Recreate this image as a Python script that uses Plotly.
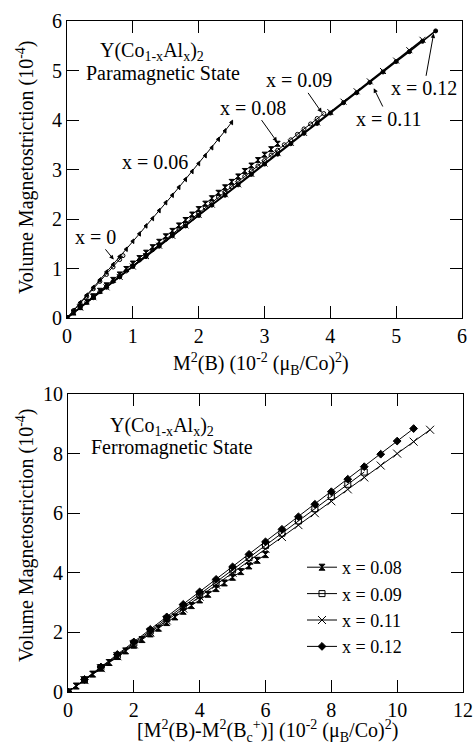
import plotly.graph_objects as go

# ---------- top panel (paramagnetic) ----------
p0_x = [0, 0.1, 0.2, 0.3, 0.4, 0.5, 0.6, 0.7, 0.8, 0.85]
p0_y = [0, 0.15, 0.29, 0.44, 0.59, 0.74, 0.88, 1.03, 1.18, 1.26]

p06_x = [0, 0.1, 0.2, 0.3, 0.4, 0.5, 0.6, 0.7, 0.8, 0.9, 1.0, 1.1, 1.2, 1.3, 1.4, 1.5,
         1.6, 1.7, 1.8, 1.9, 2.0, 2.1, 2.2, 2.3, 2.4, 2.5]
p06_y = [0, 0.15, 0.31, 0.46, 0.62, 0.77, 0.93, 1.08, 1.24, 1.39, 1.55, 1.70, 1.86, 2.01,
         2.17, 2.33, 2.48, 2.64, 2.80, 2.96, 3.12, 3.28, 3.44, 3.61, 3.78, 3.95]

p08_x = [0, 0.1, 0.2, 0.3, 0.4, 0.5, 0.6, 0.7, 0.8, 0.9, 1.0, 1.1, 1.2, 1.3, 1.4, 1.5, 1.6,
         1.7, 1.8, 1.9, 2.0, 2.1, 2.2, 2.3, 2.4, 2.5, 2.6, 2.7, 2.8, 2.9, 3.0, 3.1, 3.2]
p08_y = [0, 0.11, 0.22, 0.33, 0.44, 0.55, 0.66, 0.77, 0.88, 0.99, 1.10, 1.21, 1.32, 1.43,
         1.54, 1.65, 1.76, 1.87, 1.98, 2.09, 2.20, 2.31, 2.42, 2.53, 2.64, 2.75, 2.86, 2.97,
         3.08, 3.19, 3.30, 3.41, 3.52]

p09_x = [0, 0.1, 0.2, 0.3, 0.4, 0.5, 0.6, 0.7, 0.8, 0.9, 1.0, 1.1, 1.2, 1.3, 1.4, 1.5, 1.6,
         1.7, 1.8, 1.9, 2.0, 2.1, 2.2, 2.3, 2.4, 2.5, 2.6, 2.7, 2.8, 2.9, 3.0, 3.1, 3.2, 3.3,
         3.4, 3.5, 3.6, 3.7, 3.8, 3.9]
p09_y = [0, 0.11, 0.21, 0.32, 0.42, 0.53, 0.64, 0.74, 0.85, 0.95, 1.06, 1.17, 1.27, 1.38,
         1.48, 1.59, 1.70, 1.80, 1.91, 2.01, 2.12, 2.23, 2.33, 2.44, 2.54, 2.65, 2.76, 2.86,
         2.97, 3.07, 3.18, 3.29, 3.39, 3.50, 3.60, 3.71, 3.82, 3.92, 4.03, 4.13]

p11_x = [0, 0.2, 0.4, 0.6, 0.8, 1.0, 1.2, 1.4, 1.6, 1.8, 2.0, 2.2, 2.4, 2.6, 2.8, 3.0, 3.2,
         3.4, 3.6, 3.8, 4.0, 4.2, 4.4, 4.6, 4.8, 5.0, 5.2, 5.4]
p11_y = [0, 0.21, 0.42, 0.62, 0.83, 1.04, 1.25, 1.46, 1.66, 1.87, 2.08, 2.29, 2.50, 2.70,
         2.91, 3.12, 3.33, 3.54, 3.74, 3.95, 4.16, 4.37, 4.58, 4.78, 4.99, 5.20, 5.41, 5.62]

p12_x = [0, 0.2, 0.4, 0.6, 0.8, 1.0, 1.2, 1.4, 1.6, 1.8, 2.0, 2.2, 2.4, 2.6, 2.8, 3.0, 3.2,
         3.4, 3.6, 3.8, 4.0, 4.2, 4.4, 4.6, 4.8, 5.0, 5.2, 5.4, 5.6]
p12_y = [0, 0.21, 0.41, 0.62, 0.83, 1.04, 1.24, 1.45, 1.66, 1.86, 2.07, 2.28, 2.48, 2.69,
         2.90, 3.11, 3.31, 3.52, 3.73, 3.93, 4.14, 4.35, 4.55, 4.76, 4.97, 5.18, 5.38, 5.59, 5.80]

# ---------- bottom panel (ferromagnetic) ----------
f08_x = [0, 0.25, 0.5, 0.75, 1.0, 1.25, 1.5, 1.75, 2.0, 2.25, 2.5, 2.75, 3.0, 3.25, 3.5,
         3.75, 4.0, 4.25, 4.5, 4.75, 5.0, 5.25, 5.5, 5.75, 6.0]
f08_y = [0, 0.20, 0.40, 0.60, 0.80, 0.99, 1.19, 1.38, 1.57, 1.76, 1.95, 2.14, 2.33, 2.52,
         2.71, 2.90, 3.09, 3.28, 3.47, 3.66, 3.85, 4.04, 4.23, 4.42, 4.61]

f09_x = [0, 0.5, 1.0, 1.5, 2.0, 2.5, 3.0, 3.5, 4.0, 4.5, 5.0, 5.5, 6.0, 6.5, 7.0, 7.5, 8.0,
         8.5, 9.0]
f09_y = [0, 0.41, 0.82, 1.23, 1.64, 2.05, 2.46, 2.87, 3.28, 3.69, 4.10, 4.51, 4.92, 5.33,
         5.74, 6.15, 6.56, 6.97, 7.38]

f11_x = [0, 0.5, 1.0, 1.5, 2.0, 2.5, 3.0, 3.5, 4.0, 4.5, 5.0, 5.5, 6.0, 6.5, 7.0, 7.5, 8.0,
         8.5, 9.0, 9.5, 10.0, 10.5, 11.0]
f11_y = [0, 0.40, 0.80, 1.20, 1.60, 2.00, 2.40, 2.80, 3.20, 3.60, 4.00, 4.40, 4.80, 5.20,
         5.60, 6.00, 6.40, 6.80, 7.20, 7.60, 8.00, 8.40, 8.80]

f12_x = [0, 0.5, 1.0, 1.5, 2.0, 2.5, 3.0, 3.5, 4.0, 4.5, 5.0, 5.5, 6.0, 6.5, 7.0, 7.5, 8.0,
         8.5, 9.0, 9.5, 10.0, 10.5]
f12_y = [0, 0.42, 0.84, 1.26, 1.68, 2.10, 2.52, 2.94, 3.36, 3.78, 4.20, 4.62, 5.04, 5.46,
         5.88, 6.30, 6.72, 7.14, 7.56, 7.98, 8.42, 8.84]

legend_labels = ["x = 0.08", "x = 0.09", "x = 0.11", "x = 0.12"]

FONT = "'Liberation Serif', 'Times New Roman', 'DejaVu Serif', serif"
BLACK = "black"
FS = 20

fig = go.Figure()

def add(xs, ys, symbol, size, xa, ya, name=None, show=False, lw=1):
    fig.add_trace(go.Scatter(
        x=xs, y=ys, mode="lines+markers", xaxis=xa, yaxis=ya,
        name=name, showlegend=show,
        line=dict(color=BLACK, width=lw),
        marker=dict(symbol=symbol, size=size, color=BLACK,
                    line=dict(color=BLACK, width=1)),
    ))

# top
add(p0_x, p0_y, "circle-open", 4, "x", "y")
add(p06_x, p06_y, "triangle-left", 4, "x", "y")
add(p08_x, p08_y, "hourglass", 5, "x", "y")
add(p09_x, p09_y, "circle-open", 4, "x", "y")
add(p11_x, p11_y, "x-thin-open", 6, "x", "y", lw=1.5)
add(p12_x, p12_y, "circle", 4, "x", "y", lw=1.5)

# bottom
add(f08_x, f08_y, "hourglass", 6, "x2", "y2", legend_labels[0], True)
add(f09_x, f09_y, "square-open", 6, "x2", "y2", legend_labels[1], True)
add(f11_x, f11_y, "x-thin-open", 8, "x2", "y2", legend_labels[2], True)
add(f12_x, f12_y, "diamond", 6, "x2", "y2", legend_labels[3], True)

axis_common = dict(
    showline=True, linecolor=BLACK, linewidth=1, mirror="ticks",
    ticks="inside", ticklen=12, tickwidth=1, tickcolor=BLACK,
    showgrid=False, zeroline=False, automargin=False,
    tickfont=dict(family=FONT, size=FS, color=BLACK),
)

fig.update_layout(
    width=475, height=747,
    margin=dict(l=0, r=0, t=0, b=0, pad=0, autoexpand=False),
    paper_bgcolor="white", plot_bgcolor="white",
    font=dict(family=FONT, color=BLACK),
    xaxis=dict(domain=[67/475, 462/475], range=[0, 6], dtick=1, anchor="y", **axis_common),
    yaxis=dict(domain=[1-318/747, 1-21/747], range=[0, 6], dtick=1, anchor="x", **axis_common),
    xaxis2=dict(domain=[68/475, 463/475], range=[0, 12], dtick=2, anchor="y2", **axis_common),
    yaxis2=dict(domain=[1-692/747, 1-394/747], range=[0, 10], dtick=2, anchor="x2", **axis_common),
    legend=dict(x=302/475, y=1-549/747, xanchor="left", yanchor="top",
                bgcolor="rgba(0,0,0,0)", font=dict(family=FONT, size=18, color=BLACK),
                itemwidth=30, tracegroupgap=0),
)

ann = []
def txt(text, x, y, xr="x", yr="y", size=FS, angle=0):
    ann.append(dict(text=text, x=x, y=y, xref=xr, yref=yr, showarrow=False,
                    xanchor="center", yanchor="middle",
                    font=dict(family=FONT, size=size, color=BLACK), textangle=angle))

def arr(text, tx, ty, hx, hy):
    ann.append(dict(text=text, x=hx, y=hy, ax=tx, ay=ty, xref="x", yref="y",
                    axref="x", ayref="y", showarrow=True, arrowhead=2, arrowsize=0.9,
                    arrowwidth=1, arrowcolor=BLACK, standoff=0,
                    font=dict(family=FONT, size=FS, color=BLACK)))

txt("Y(Co<sub>1-x</sub>Al<sub>x</sub>)<sub>2</sub>", 1.29, 5.38)
txt("Paramagnetic State", 1.46, 4.93)
txt("x = 0.06", 1.34, 3.16)
arr("x = 0", 0.43, 1.64, 0.71, 1.18)
arr("x = 0.08", 2.82, 4.25, 3.19, 3.56)
arr("x = 0.09", 3.53, 4.80, 3.87, 4.15)
arr("x = 0.11", 4.89, 4.02, 4.66, 4.64)
arr("x = 0.12", 5.42, 4.64, 5.57, 5.75)

txt("Y(Co<sub>1-x</sub>Al<sub>x</sub>)<sub>2</sub>", 2.86, 8.92, "x2", "y2")
txt("Ferromagnetic State", 3.16, 8.22, "x2", "y2")

txt("Volume Magnetostriction (10<sup>-4</sup>)", 25/475, 1-167/747, "paper", "paper", angle=-90)
txt("M<sup>2</sup>(B) (10<sup>-2</sup> (μ<sub>B</sub>/Co)<sup>2</sup>)", 261/475, 1-364/747, "paper", "paper")
txt("Volume Magnetostriction (10<sup>-4</sup>)", 25/475, 1-535/747, "paper", "paper", angle=-90)
txt("[M<sup>2</sup>(B)-M<sup>2</sup>(B<sub>c</sub><sup>+</sup>)] (10<sup>-2</sup> (μ<sub>B</sub>/Co)<sup>2</sup>)", 267/475, 1-731/747, "paper", "paper")

fig.update_layout(annotations=ann)
fig.write_html("out.html", config={"displayModeBar": False},
               post_script="document.body.style.margin='0';")
